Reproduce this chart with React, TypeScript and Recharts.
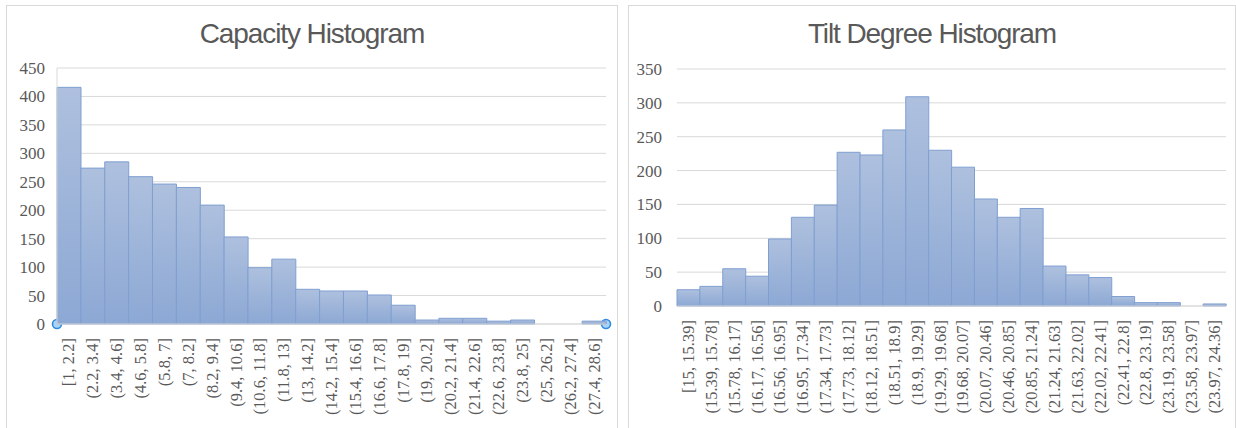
import * as RC from "recharts";
import { Bar, BarChart, CartesianGrid, XAxis, YAxis } from "recharts";

// Capacity bins and counts
const capacityBins = [
  "[1, 2.2]", "(2.2, 3.4]", "(3.4, 4.6]", "(4.6, 5.8]", "(5.8, 7]", "(7, 8.2]",
  "(8.2, 9.4]", "(9.4, 10.6]", "(10.6, 11.8]", "(11.8, 13]", "(13, 14.2]",
  "(14.2, 15.4]", "(15.4, 16.6]", "(16.6, 17.8]", "(17.8, 19]", "(19, 20.2]",
  "(20.2, 21.4]", "(21.4, 22.6]", "(22.6, 23.8]", "(23.8, 25]", "(25, 26.2]",
  "(26.2, 27.4]", "(27.4, 28.6]",
];
const capacityCounts = [
  416, 274, 285, 259, 246, 240, 209, 153, 99, 114, 61, 58, 58, 51, 33, 7, 10, 10,
  5, 7, 0, 0, 5,
];
const capacityTicks = [0, 50, 100, 150, 200, 250, 300, 350, 400, 450];

// Tilt degree bins and counts
const tiltBins = [
  "[15, 15.39]", "(15.39, 15.78]", "(15.78, 16.17]", "(16.17, 16.56]",
  "(16.56, 16.95]", "(16.95, 17.34]", "(17.34, 17.73]", "(17.73, 18.12]",
  "(18.12, 18.51]", "(18.51, 18.9]", "(18.9, 19.29]", "(19.29, 19.68]",
  "(19.68, 20.07]", "(20.07, 20.46]", "(20.46, 20.85]", "(20.85, 21.24]",
  "(21.24, 21.63]", "(21.63, 22.02]", "(22.02, 22.41]", "(22.41, 22.8]",
  "(22.8, 23.19]", "(23.19, 23.58]", "(23.58, 23.97]", "(23.97, 24.36]",
];
const tiltCounts = [
  24, 29, 55, 44, 99, 131, 149, 227, 223, 260, 309, 230, 205, 158, 131, 144, 59,
  46, 42, 14, 5, 5, 0, 3,
];
const tiltTicks = [0, 50, 100, 150, 200, 250, 300, 350];

const GRID = "#d9d9d9";
const TEXT = "#595959";
const BAR_EDGE = "#7f9fd1";
const SERIF = "'Liberation Serif', 'Times New Roman', serif";
const NARROW = "'Liberation Sans Narrow', 'Arial Narrow', 'Liberation Sans', sans-serif";

const toRows = (bins: string[], counts: number[]) =>
  bins.map((bin, i) => ({ bin, count: counts[i] }));

function BinTick(props: any) {
  const { x, y, payload } = props;
  const ty = y + 14;
  return (
    <text
      x={x}
      y={ty}
      transform={`rotate(-90, ${x}, ${ty})`}
      textAnchor="end"
      dominantBaseline="central"
      fill={TEXT}
      fontFamily={SERIF}
      fontSize={16.5}
    >
      {payload.value}
    </text>
  );
}

// selection handles at both ends of the category axis
function AxisHandles() {
  const area = (RC as any).usePlotArea?.();
  if (!area) return null;
  const y = area.y + area.height;
  return (
    <g>
      {[area.x, area.x + area.width].map((cx: number) => (
        <circle key={cx} cx={cx} cy={y} r={4.5} fill="#a9d3f7" stroke="#2f8ae0" strokeWidth={1.6} />
      ))}
    </g>
  );
}

function Histogram({
  id,
  title,
  rows,
  ticks,
  width,
  height,
  margin,
  yWidth,
  xHeight,
  tickGap,
  showYLine,
  handles,
}: {
  id: string;
  title: string;
  rows: { bin: string; count: number }[];
  ticks: number[];
  width: number;
  height: number;
  margin: { top: number; right: number; left: number; bottom: number };
  yWidth: number;
  xHeight: number;
  tickGap: number;
  showYLine: boolean;
  handles?: boolean;
}) {
  return (
    <div style={{ position: "relative", width, height }}>
      <div
        style={{
          position: "absolute",
          top: 10,
          left: 0,
          width: "100%",
          textAlign: "center",
          fontFamily: NARROW,
          fontSize: 28,
          letterSpacing: -1.1,
          color: TEXT,
          lineHeight: "36px",
        }}
      >
        {title}
      </div>
      <BarChart width={width} height={height} data={rows} margin={margin} barCategoryGap={0}>
        <defs>
          <linearGradient id={id} x1="0" y1="0" x2="0" y2="1">
            <stop offset="0%" stopColor="#aec0de" />
            <stop offset="100%" stopColor="#8ca8d4" />
          </linearGradient>
        </defs>
        <CartesianGrid stroke={GRID} vertical={false} />
        <XAxis
          dataKey="bin"
          interval={0}
          height={xHeight}
          tickLine={false}
          tickSize={0}
          tickMargin={0}
          axisLine={{ stroke: GRID }}
          tick={<BinTick />}
        />
        <YAxis
          domain={[0, ticks[ticks.length - 1]]}
          ticks={ticks}
          width={yWidth}
          tickLine={false}
          tickSize={0}
          tickMargin={tickGap}
          axisLine={showYLine ? { stroke: GRID } : false}
          tick={{ fill: TEXT, fontFamily: SERIF, fontSize: 17 }}
        />
        <Bar
          dataKey="count"
          fill={`url(#${id})`}
          stroke={BAR_EDGE}
          strokeWidth={1}
          isAnimationActive={false}
        />
        {handles ? <AxisHandles /> : null}
      </BarChart>
    </div>
  );
}

export default function App() {
  return (
    <div
      style={{
        position: "fixed",
        left: 0,
        top: 0,
        width: 1236,
        height: 428,
        background: "#fff",
        overflow: "hidden",
      }}
    >
      <div
        style={{
          position: "absolute",
          left: 6,
          top: 5,
          width: 610,
          height: 440,
          border: `1px solid ${GRID}`,
        }}
      >
        <Histogram
          id="capGrad"
          title="Capacity Histogram"
          rows={toRows(capacityBins, capacityCounts)}
          ticks={capacityTicks}
          width={610}
          height={422}
          margin={{ top: 62, right: 11, left: 0, bottom: 0 }}
          yWidth={50}
          xHeight={104}
          tickGap={12}
          showYLine
          handles
        />
      </div>
      <div
        style={{
          position: "absolute",
          left: 628,
          top: 5,
          width: 606,
          height: 440,
          border: `1px solid ${GRID}`,
        }}
      >
        <Histogram
          id="tiltGrad"
          title="Tilt Degree Histogram"
          rows={toRows(tiltBins, tiltCounts)}
          ticks={tiltTicks}
          width={606}
          height={422}
          margin={{ top: 63, right: 9, left: 0, bottom: 0 }}
          yWidth={48}
          xHeight={122}
          tickGap={15}
          showYLine={false}
        />
      </div>
    </div>
  );
}
